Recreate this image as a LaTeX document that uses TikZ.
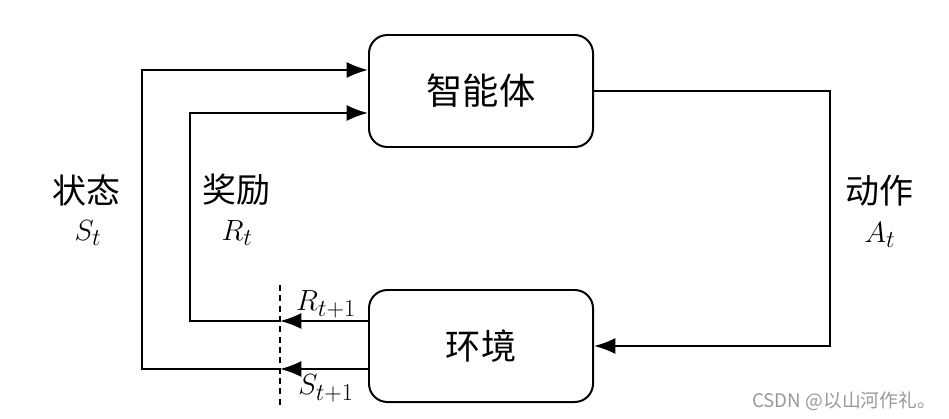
\documentclass[tikz,border=0pt]{standalone}
\usepackage{fontspec}
\newfontfamily\cjk{Noto Sans CJK SC}
\usetikzlibrary{arrows.meta,positioning,calc}
\tikzset{
every node/.style={inner sep=0pt},
box/.style={draw,rectangle,rounded corners=0.55cm,line width=1.7pt,minimum width=6.72cm,minimum height=3.36cm},
cjklabel/.style={font=\cjk\fontsize{29}{32}\selectfont},
mathlabel/.style={font=\Huge},
link/.style={line width=1.7pt},
tip/.style={link,-{Latex[length=6.4mm,width=4.8mm]}},
watermark/.style={gray!80,font=\cjk\fontsize{16}{18}\selectfont}
}

\begin{document}
\begin{tikzpicture}[x=0.03cm,y=-0.03cm]
\useasboundingbox (0,0) rectangle (949,419);

\node[box,font=\cjk\fontsize{31}{34}\selectfont] (agent) at (481,91) {智能体};
\node[box,font=\cjk\fontsize{30}{33}\selectfont] (env) at (481,346) {环境};

\node[cjklabel] (state) at (86,190) {状态};
\node[mathlabel] (st) at (88,233) {$S_t$};
\node[cjklabel] (reward) at (236,190) {奖励};
\node[mathlabel] (rt) at (237,233) {$R_t$};
\node[cjklabel] (action) at (879,191) {动作};
\node[mathlabel] (at) at (880,235) {$A_t$};

\node[mathlabel] (rnext) at (326,304) {$R_{t+1}$};
\node[mathlabel] (snext) at (326,388) {$S_{t+1}$};

\coordinate (outer) at (142,0);
\coordinate (inner) at (190,0);
\coordinate (cut) at (280,0);
\coordinate (right) at (830,0);

\coordinate (r0) at ($(env.west)+(0,-25)$);
\coordinate (s0) at ($(env.west)+(0,23)$);
\coordinate (a1) at ($(agent.west)+(0,-21)$);
\coordinate (a2) at ($(agent.west)+(0,22)$);

% action loop
\draw[tip] (agent.east) -- (agent.east -| right) |- (env.east);

% reward and state loops
\draw[tip] (r0) -- (r0 -| cut);
\draw[tip] (s0) -- (s0 -| cut);
\draw[tip] (r0 -| cut) -- (r0 -| inner) |- (a2);
\draw[tip] (s0 -| cut) -- (s0 -| outer) |- (a1);

\draw[link,dash pattern=on 0.18cm off 0.13cm] (280,285) -- (280,405);

\node[watermark,anchor=east] (csdn) at (936,401) {CSDN @以山河作礼。};
\end{tikzpicture}
\end{document}
